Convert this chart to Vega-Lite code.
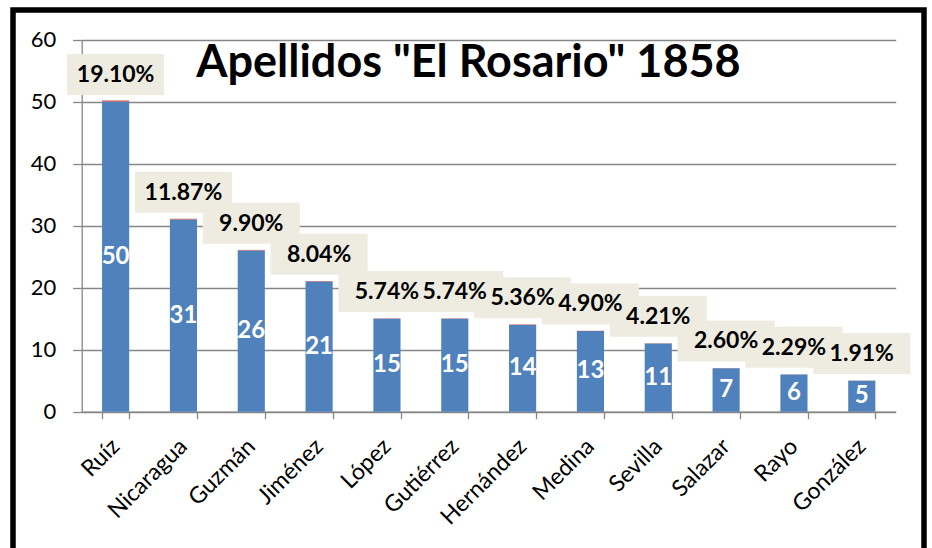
{
  "$schema": "https://vega.github.io/schema/vega-lite/v6.json",
  "width": 911,
  "height": 538,
  "autosize": {"type": "none"},
  "padding": {"left": 13, "top": 10, "right": 8, "bottom": 0},
  "background": "white",
  "config": {
    "view": {"stroke": "black", "strokeWidth": 5.5, "strokeDash": [1449, 911]},
    "font": "Lato"
  },
  "title": {
    "text": "Apellidos \"El Rosario\" 1858",
    "font": "Lato",
    "fontSize": 45,
    "fontWeight": "bold",
    "color": "black",
    "anchor": "middle",
    "frame": "group",
    "baseline": "alphabetic",
    "offset": -112
  },
  "data": {
    "values": [
      {"name": "Ruíz", "count": 50, "pct": 0.1910},
      {"name": "Nicaragua", "count": 31, "pct": 0.1187},
      {"name": "Guzmán", "count": 26, "pct": 0.0990},
      {"name": "Jiménez", "count": 21, "pct": 0.0804},
      {"name": "López", "count": 15, "pct": 0.0574},
      {"name": "Gutiérrez", "count": 15, "pct": 0.0574},
      {"name": "Hernández", "count": 14, "pct": 0.0536},
      {"name": "Medina", "count": 13, "pct": 0.0490},
      {"name": "Sevilla", "count": 11, "pct": 0.0421},
      {"name": "Salazar", "count": 7, "pct": 0.0260},
      {"name": "Rayo", "count": 6, "pct": 0.0229},
      {"name": "González", "count": 5, "pct": 0.0191}
    ]
  },
  "encoding": {
    "x": {
      "field": "name",
      "type": "nominal",
      "sort": null,
      "scale": {"range": [68.7, 882.7], "paddingInner": 0.6, "paddingOuter": 0.3},
      "axis": {
        "title": null,
        "offset": -136.3,
        "domainColor": "#868686",
        "domainWidth": 1.3,
        "tickColor": "#868686",
        "tickWidth": 1.3,
        "tickBand": "extent",
        "tickSize": 7,
        "labelAngle": -45,
        "labelFont": "Lato",
        "labelFontSize": 23,
        "labelColor": "black",
        "labelPadding": 16,
        "labelOffset": -8,
        "grid": false
      }
    }
  },
  "layer": [
    {
      "transform": [{"fold": ["count", "pct"], "as": ["key", "val"]}],
      "mark": {"type": "bar"},
      "encoding": {
        "y": {
          "field": "val",
          "type": "quantitative",
          "stack": "zero",
          "scale": {"domain": [0, 60], "range": [401.7, 29.7], "nice": false},
          "axis": {
            "title": null,
            "offset": -68.7,
            "values": [0, 10, 20, 30, 40, 50, 60],
            "grid": true,
            "gridColor": "#868686",
            "gridWidth": 1.3,
            "domainColor": "#868686",
            "domainWidth": 1.3,
            "tickColor": "#868686",
            "tickWidth": 1.3,
            "tickSize": 9,
            "labelPadding": 17,
            "labelFont": "Lato",
            "labelFontSize": 22,
            "labelColor": "black"
          }
        },
        "color": {
          "field": "key",
          "type": "nominal",
          "scale": {"domain": ["count", "pct"], "range": ["#4F81BD", "#C0504D"]},
          "legend": null
        },
        "order": {"field": "key", "type": "nominal", "sort": "ascending"}
      }
    },
    {
      "mark": {"type": "text", "color": "white", "font": "Lato", "fontWeight": "bold", "fontSize": 24, "baseline": "middle"},
      "encoding": {
        "y": {"field": "count", "type": "quantitative", "stack": "zero", "bandPosition": 0.5},
        "detail": {"field": "name"},
        "text": {"field": "count", "type": "quantitative"}
      }
    },
    {
      "mark": {"type": "bar", "color": "#EEECE1", "width": 97, "yOffset": -47.7, "y2Offset": -6.7},
      "encoding": {
        "y": {"field": "count", "type": "quantitative"},
        "y2": {"field": "count"}
      }
    },
    {
      "mark": {"type": "text", "color": "black", "font": "Lato", "fontWeight": "bold", "fontSize": 23, "baseline": "middle", "dy": -27},
      "encoding": {
        "y": {"field": "count", "type": "quantitative"},
        "text": {"field": "pct", "type": "quantitative", "format": ".2%"}
      }
    }
  ]
}
